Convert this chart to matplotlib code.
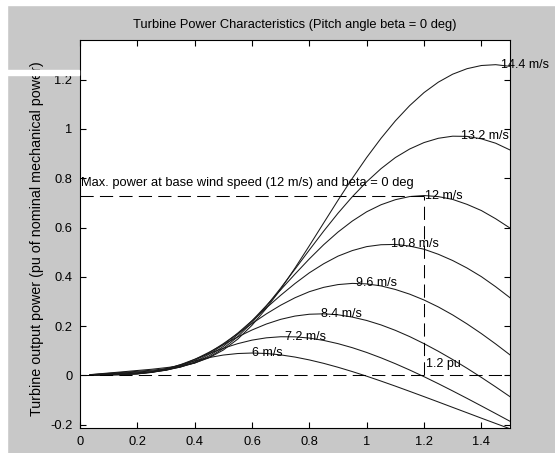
import matplotlib
matplotlib.use('Agg')
import matplotlib.pyplot as plt
from matplotlib.patches import Rectangle

# turbine speed (pu of base generator speed)
speed = [0.035, 0.1, 0.15, 0.2, 0.25, 0.3, 0.35, 0.4, 0.45, 0.5, 0.55, 0.6, 0.65, 0.7, 0.75,
         0.8, 0.85, 0.9, 0.95, 1.0, 1.05, 1.1, 1.15, 1.2, 1.25, 1.3, 1.35, 1.4, 1.45, 1.5]

# output power (pu) for each wind speed
p_6_0 = [0.0006, 0.0018, 0.0029, 0.0064, 0.0148, 0.0278, 0.0434, 0.0591, 0.0727, 0.0830,
         0.0891, 0.0912, 0.0893, 0.0836, 0.0748, 0.0632, 0.0493, 0.0334, 0.0159, -0.0028,
         -0.0226, -0.0431, -0.0643, -0.0857, -0.1074, -0.1293, -0.1511, -0.1730, -0.1946, -0.2161]
p_7_2 = [0.0009, 0.0025, 0.0040, 0.0064, 0.0129, 0.0255, 0.0438, 0.0658, 0.0889, 0.1105,
         0.1291, 0.1435, 0.1528, 0.1572, 0.1568, 0.1518, 0.1423, 0.1292, 0.1128, 0.0935,
         0.0717, 0.0479, 0.0223, -0.0048, -0.0332, -0.0626, -0.0927, -0.1234, -0.1544, -0.1857]
p_8_4 = [0.0012, 0.0034, 0.0052, 0.0075, 0.0124, 0.0228, 0.0405, 0.0650, 0.0942, 0.1255,
         0.1563, 0.1846, 0.2088, 0.2278, 0.2411, 0.2485, 0.2502, 0.2463, 0.2369, 0.2232,
         0.2052, 0.1832, 0.1578, 0.1293, 0.0982, 0.0648, 0.0294, -0.0077, -0.0462, -0.0859]
p_9_6 = [0.0016, 0.0045, 0.0068, 0.0094, 0.0132, 0.0213, 0.0366, 0.0604, 0.0918, 0.1292,
         0.1697, 0.2106, 0.2499, 0.2851, 0.3154, 0.3400, 0.3576, 0.3688, 0.3736, 0.3716,
         0.3635, 0.3490, 0.3300, 0.3063, 0.2781, 0.2457, 0.2094, 0.1701, 0.1280, 0.0836]
p_10_8 = [0.0020, 0.0057, 0.0085, 0.0114, 0.0154, 0.0215, 0.0344, 0.0549, 0.0860, 0.1251,
          0.1717, 0.2221, 0.2742, 0.3253, 0.3731, 0.4165, 0.4533, 0.4842, 0.5068, 0.5228,
          0.5305, 0.5317, 0.5250, 0.5122, 0.4918, 0.4664, 0.4361, 0.4011, 0.3601, 0.3155]
p_12_0 = [0.0024, 0.0070, 0.0105, 0.0141, 0.0184, 0.0236, 0.0341, 0.0516, 0.0793, 0.1180,
          0.1659, 0.2220, 0.2836, 0.3475, 0.4114, 0.4730, 0.5305, 0.5819, 0.6266, 0.6641,
          0.6926, 0.7131, 0.7259, 0.7300, 0.7257, 0.7143, 0.6943, 0.6692, 0.6359, 0.5981]
p_13_2 = [0.0030, 0.0085, 0.0127, 0.0170, 0.0215, 0.0275, 0.0356, 0.0504, 0.0739, 0.1099,
          0.1571, 0.2148, 0.2812, 0.3546, 0.4314, 0.5091, 0.5856, 0.6583, 0.7253, 0.7858,
          0.8390, 0.8840, 0.9188, 0.9449, 0.9623, 0.9708, 0.9700, 0.9601, 0.9423, 0.9149]
p_14_4 = [0.0035, 0.0101, 0.0151, 0.0203, 0.0253, 0.0318, 0.0389, 0.0510, 0.0717, 0.1033,
          0.1474, 0.2039, 0.2723, 0.3503, 0.4360, 0.5264, 0.6189, 0.7109, 0.8000, 0.8843,
          0.9621, 1.0328, 1.0948, 1.1476, 1.1900, 1.2223, 1.2446, 1.2575, 1.2609, 1.2541]

curves = [p_6_0, p_7_2, p_8_4, p_9_6, p_10_8, p_12_0, p_13_2, p_14_4]
wind_labels = ['6 m/s', '7.2 m/s', '8.4 m/s', '9.6 m/s', '10.8 m/s', '12 m/s', '13.2 m/s', '14.4 m/s']
label_x = [0.60, 0.715, 0.84, 0.962, 1.085, 1.205, 1.33, 1.468]
label_y = [0.091, 0.157, 0.250, 0.374, 0.532, 0.730, 0.971, 1.261]

base_speed = 1.2
base_power = 0.73

plt.rcParams['font.family'] = ['Liberation Sans', 'DejaVu Sans']
plt.rcParams['font.size'] = 9
plt.rcParams['lines.scale_dashes'] = False

gray = '#c8c8c8'
fig = plt.figure(figsize=(5.55, 4.53), dpi=100, facecolor=gray)
# white borders / strip of the screenshot
fig.patches.append(Rectangle((0, 0), 7 / 555, 1, transform=fig.transFigure, color='white', zorder=-1))
fig.patches.append(Rectangle((0, 1 - 5 / 453), 1, 5 / 453, transform=fig.transFigure, color='white', zorder=-1))
fig.patches.append(Rectangle((0, 1 - 75 / 453), 79 / 555, 5 / 453, transform=fig.transFigure,
                             color='white', zorder=5))

ax = fig.add_axes([80 / 555, 1 - 428.3 / 453, 430 / 555, 388.3 / 453])
ax.set_facecolor('white')

for p in curves:
    ax.plot(speed, p, color='#1a1a1a', lw=0.75)

for lx, ly, txt in zip(label_x, label_y, wind_labels):
    ax.text(lx, ly, txt, ha='left', va='center', color='black', fontsize=9)

dash = (0, (9.5, 4.5))
ax.plot([0, 1.5], [0, 0], color='black', lw=0.75, linestyle=dash)
ax.plot([0, base_speed], [base_power, base_power], color='black', lw=0.75, linestyle=dash)
ax.plot([base_speed, base_speed], [0, base_power], color='black', lw=0.75, linestyle=dash)

ax.text(0.005, 0.781, 'Max. power at base wind speed (12 m/s) and beta = 0 deg',
        ha='left', va='center', fontsize=9.3)
ax.text(1.207, 0.048, '1.2 pu', ha='left', va='center', fontsize=9)

ax.set_xlim(0, 1.5)
ax.set_ylim(-0.2142, 1.361)
ax.set_xticks([0, 0.2, 0.4, 0.6, 0.8, 1.0, 1.2, 1.4])
ax.set_xticklabels(['0', '0.2', '0.4', '0.6', '0.8', '1', '1.2', '1.4'])
ax.set_yticks([-0.2, 0, 0.2, 0.4, 0.6, 0.8, 1.0, 1.2])
ax.set_yticklabels(['-0.2', '0', '0.2', '0.4', '0.6', '0.8', '1', '1.2'])
ax.tick_params(direction='in', length=4, width=0.8, top=True, right=True, pad=5.5,
               colors='black', labelsize=9.3)
for s in ax.spines.values():
    s.set_linewidth(0.8)

ax.set_title('Turbine Power Characteristics (Pitch angle beta = 0 deg)', fontsize=9.3, pad=8.5)
fig.text(37 / 555, 1 - 239 / 453, 'Turbine output power (pu of nominal mechanical power)',
         rotation=90, ha='center', va='center', fontsize=10.3)

plt.savefig('out.png', dpi=100, facecolor=gray)
